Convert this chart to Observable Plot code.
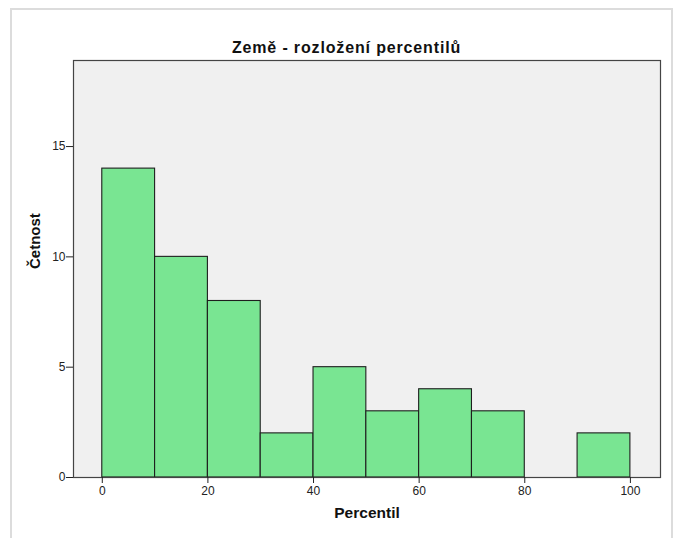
<!DOCTYPE html>
<html>
<head>
<meta charset="utf-8">
<script src="https://cdn.jsdelivr.net/npm/d3@7"></script>
<script src="https://cdn.jsdelivr.net/npm/@observablehq/plot@0.6"></script>
<style>
  body { margin: 0; background: #fff; }
  #wrap { position: relative; width: 680px; height: 538px; overflow: hidden; }
  #border { position: absolute; left: 10px; top: 8px; width: 663px; height: 600px;
            border: 2px solid #dcdcdc; box-sizing: border-box; }
  #chart { position: absolute; left: 0; top: 0; }
  .ttl text { letter-spacing: 0.85px; }
</style>
</head>
<body>
<div id="wrap"><div id="border"></div><div id="chart"></div></div>
<script>
const title = "Země - rozložení percentilů";
const xLabel = "Percentil";
const yLabel = "Četnost";
const binStart = [0, 10, 20, 30, 40, 50, 60, 70, 80, 90];
const binEnd = [10, 20, 30, 40, 50, 60, 70, 80, 90, 100];
const counts = [14, 10, 8, 2, 5, 3, 4, 3, 0, 2];
const xTicks = [0, 20, 40, 60, 80, 100];
const yTicks = [0, 5, 10, 15];

const bins = binStart.map((s, i) => ({x1: s, x2: binEnd[i], n: counts[i]})).filter(d => d.n > 0);

const font = "Liberation Sans, Arial, sans-serif";
const chart = Plot.plot({
  width: 680,
  height: 538,
  marginLeft: 73,
  marginRight: 20,
  marginTop: 60,
  marginBottom: 61,
  style: {fontFamily: font, background: "transparent", color: "#222"},
  x: {domain: [-5.45, 105.7], ticks: xTicks},
  y: {domain: [0, 18.9], ticks: yTicks},
  marks: [
    Plot.frame({fill: "#f0f0f0", stroke: null}),
    Plot.rectY(bins, {x1: "x1", x2: "x2", y1: 0, y2: "n", fill: "#79e592", stroke: "#1e1e1e", strokeWidth: 1.1}),
    Plot.frame({stroke: "#444", strokeWidth: 1.2}),
    Plot.axisX({ticks: xTicks, tickSize: 6, tickPadding: 3, fontSize: 12, label: null, stroke: "#222"}),
    Plot.axisY({ticks: yTicks, tickSize: 7, tickPadding: 1, fontSize: 12, label: null, stroke: "#222"}),
    Plot.text([title], {frameAnchor: "top", dx: -20.5, dy: -19, text: d => d, fontSize: 16, fontWeight: "bold", fill: "#111", className: "ttl"}),
    Plot.text([xLabel], {frameAnchor: "bottom", dy: 40, text: d => d, fontSize: 15.5, fontWeight: "bold", fill: "#111"}),
    Plot.text([yLabel], {frameAnchor: "left", dx: -38, rotate: -90, text: d => d, fontSize: 15, fontWeight: "bold", fill: "#111"})
  ]
});
document.getElementById("chart").appendChild(chart);
</script>
</body>
</html>
